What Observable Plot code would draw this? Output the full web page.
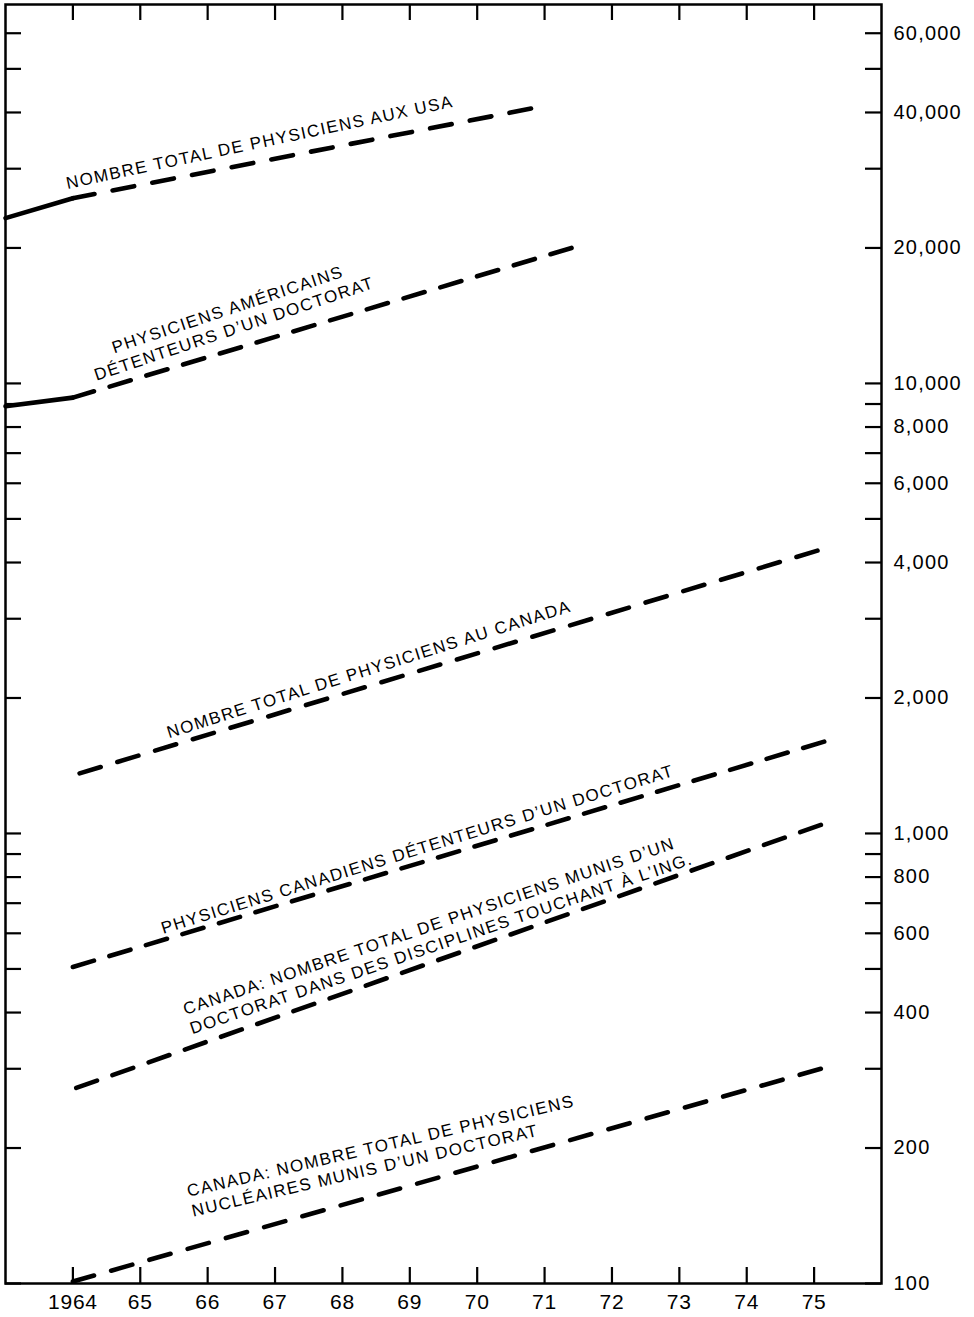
<!DOCTYPE html>
<html>
<head>
<meta charset="utf-8">
<script src="https://cdn.jsdelivr.net/npm/d3@7"></script>
<script src="https://cdn.jsdelivr.net/npm/@observablehq/plot@0.6"></script>
<style>
  body { margin: 0; background: #fff; }
  #chart svg { display: block; }
  /* tracking for the three text groups, keyed on their font size */
  #chart g[font-size="17"] text { letter-spacing: 1.45px; }
  #chart g[font-size="20"] text { letter-spacing: 1.2px; }
  #chart g[font-size="21"] text { letter-spacing: 0.8px; }
</style>
</head>
<body>
<div id="chart"></div>
<script>
// Years on the horizontal axis and their printed labels
const years = [1964, 1965, 1966, 1967, 1968, 1969, 1970, 1971, 1972, 1973, 1974, 1975];
const yearLabels = ["1964", "65", "66", "67", "68", "69", "70", "71", "72", "73", "74", "75"];

// Log-scale tick marks and the labelled subset
const countTicks = [100, 200, 300, 400, 500, 600, 700, 800, 900,
  1000, 2000, 3000, 4000, 5000, 6000, 7000, 8000, 9000,
  10000, 20000, 30000, 40000, 50000, 60000];
const countLabelValues = [100, 200, 400, 600, 800, 1000, 2000, 4000, 6000, 8000, 10000, 20000, 40000, 60000];
const countLabels = ["100", "200", "400", "600", "800", "1,000", "2,000", "4,000", "6,000", "8,000", "10,000", "20,000", "40,000", "60,000"];

// Series: number of physicists (observed up to 1964, projected afterwards)
const usTotalYears = [1963, 1964, 1970.8];
const usTotalCounts = [23300, 25800, 40800];

const usPhdYears = [1963, 1964, 1971.4];
const usPhdCounts = [8900, 9300, 20000];

const caTotalYears = [1964.1, 1975.05];
const caTotalCounts = [1360, 4250];

const caPhdYears = [1964, 1975.15];
const caPhdCounts = [505, 1600];

const caEngYears = [1964.05, 1975.1];
const caEngCounts = [272, 1045];

const caNucYears = [1964, 1975.1];
const caNucCounts = [101, 300];

// Line annotations
const centredLabelTexts = [
  "NOMBRE TOTAL DE PHYSICIENS AUX USA",
  "PHYSICIENS AMÉRICAINS\nDÉTENTEURS D’UN DOCTORAT",
  "NOMBRE TOTAL DE PHYSICIENS AU CANADA",
  "PHYSICIENS CANADIENS DÉTENTEURS D’UN DOCTORAT"
];
const centredLabelYears = [1966.77, 1966.34, 1968.39, 1969.11];
const centredLabelCounts = [34500, 13950, 2326, 926];
const centredLabelAngles = [-12, -18.5, -17.5, -17.2];

const leftLabelTexts = [
  "CANADA: NOMBRE TOTAL DE PHYSICIENS MUNIS D’UN\nDOCTORAT DANS DES DISCIPLINES TOUCHANT À L’ING.",
  "CANADA: NOMBRE TOTAL DE PHYSICIENS\nNUCLÉAIRES MUNIS D’UN DOCTORAT"
];
const leftLabelYears = [1965.69, 1965.73];
const leftLabelCounts = [388, 153];
const leftLabelAngles = [-18.8, -13.2];

// ---- build tables ----
function toRows(series, ys, cs) {
  return ys.map((year, i) => ({series, year, count: cs[i]}));
}
const allRows = [
  ...toRows("usTotal", usTotalYears, usTotalCounts),
  ...toRows("usPhd", usPhdYears, usPhdCounts),
  ...toRows("caTotal", caTotalYears, caTotalCounts),
  ...toRows("caPhd", caPhdYears, caPhdCounts),
  ...toRows("caEng", caEngYears, caEngCounts),
  ...toRows("caNuc", caNucYears, caNucCounts)
];
const observedRows = allRows.filter(d => d.year <= 1964 && (d.series === "usTotal" || d.series === "usPhd"));
const projectedRows = allRows.filter(d => d.year >= 1964);

const yearTable = years.map((y, i) => ({year: y, label: yearLabels[i]}));
const countTable = countLabelValues.map((v, i) => ({count: v, label: countLabels[i]}));
const centredLabels = centredLabelTexts.map((t, i) => ({text: t, year: centredLabelYears[i], count: centredLabelCounts[i], angle: centredLabelAngles[i]}));
const leftLabels = leftLabelTexts.map((t, i) => ({text: t, year: leftLabelYears[i], count: leftLabelCounts[i], angle: leftLabelAngles[i]}));

const W = 974, H = 1317;
const mT = 4, mB = 34, mL = 5, mR = 93;
const frameW = W - mL - mR, frameH = H - mT - mB;
const tickLen = 16;
const lineW = 4.6;
const dashLen = 22, dashPeriod = 39;
const font = "'Liberation Sans', Arial, Helvetica, sans-serif";

const chart = Plot.plot({
  width: W,
  height: H,
  marginTop: mT,
  marginBottom: mB,
  marginLeft: mL,
  marginRight: mR,
  style: {fontFamily: font, background: "#fff", color: "#000"},
  x: {domain: [1963, 1976], axis: null},
  y: {type: "log", domain: [100, 69500], axis: null},
  marks: [
    // observed (solid) and projected (dashed) series
    Plot.line(observedRows, {x: "year", y: "count", z: "series", stroke: "#000", strokeWidth: lineW, strokeLinecap: "round", strokeLinejoin: "round"}),
    Plot.line(projectedRows, {x: "year", y: "count", z: "series", stroke: "#000", strokeWidth: lineW, strokeLinecap: "round", strokeDasharray: `${dashLen},${dashPeriod - dashLen}`}),
    // frame and inward ticks on all four sides
    Plot.frame({stroke: "#000", strokeWidth: 2.5}),
    Plot.tickX(years, {x: d => d, insetTop: frameH - tickLen, stroke: "#000", strokeWidth: 2.2}),
    Plot.tickX(years, {x: d => d, insetBottom: frameH - tickLen, stroke: "#000", strokeWidth: 2.2}),
    Plot.tickY(countTicks, {y: d => d, insetRight: frameW - tickLen, stroke: "#000", strokeWidth: 2.2}),
    Plot.tickY(countTicks, {y: d => d, insetLeft: frameW - tickLen, stroke: "#000", strokeWidth: 2.2}),
    // axis labels
    Plot.text(yearTable, {x: "year", text: "label", frameAnchor: "bottom", dy: 19, lineAnchor: "middle", fontSize: 21, fill: "#000"}),
    Plot.text(countTable, {y: "count", text: "label", frameAnchor: "right", dx: 12, textAnchor: "start", lineAnchor: "middle", fontSize: 20, fill: "#000"}),
    // series annotations
    Plot.text(centredLabels, {x: "year", y: "count", text: "text", rotate: "angle", textAnchor: "middle", lineAnchor: "middle", lineHeight: 1.2, fontSize: 17, fill: "#000"}),
    Plot.text(leftLabels, {x: "year", y: "count", text: "text", rotate: "angle", textAnchor: "start", lineAnchor: "middle", lineHeight: 1.2, fontSize: 17, fill: "#000"})
  ]
});

document.getElementById("chart").appendChild(chart);

// Stretch each dashed path's gaps a little so that every projection
// begins and ends on a full dash.
d3.select(chart).selectAll("g[stroke-dasharray] path").each(function () {
  const len = this.getTotalLength();
  const n = Math.max(1, Math.round((len - dashLen) / dashPeriod));
  const gap = (len - dashLen) / n - dashLen;
  this.setAttribute("stroke-dasharray", `${dashLen},${gap.toFixed(2)}`);
});
</script>
</body>
</html>
